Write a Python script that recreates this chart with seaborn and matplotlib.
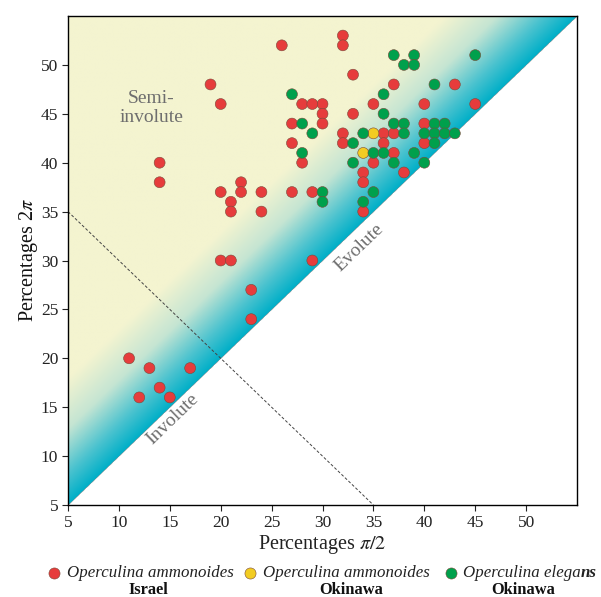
import numpy as np
import pandas as pd
import matplotlib
matplotlib.use("Agg")
import matplotlib.pyplot as plt
import seaborn as sns
from matplotlib.colors import LinearSegmentedColormap
from matplotlib.lines import Line2D

# ---- data ----
israel_x = [32, 32, 33, 37, 43, 30, 30, 30, 35, 33, 40, 45, 32, 32, 36, 37, 36, 37, 40, 40, 35, 34, 34, 38, 34,
            26, 19, 20, 28, 29, 27, 27, 28, 14, 14, 20, 22, 22, 21, 21, 24, 24, 27, 29,
            20, 21, 29, 23, 23, 11, 13, 17, 14, 12, 15]
israel_y = [53, 52, 49, 48, 48, 46, 45, 44, 46, 45, 46, 46, 43, 42, 43, 43, 42, 41, 44, 42, 40, 39, 38, 39, 35,
            52, 48, 46, 46, 46, 44, 42, 40, 40, 38, 37, 38, 37, 36, 35, 37, 35, 37, 37,
            30, 30, 30, 27, 24, 20, 19, 19, 17, 16, 16]
oki_amm_x = [35, 34]
oki_amm_y = [43, 41]
oki_ele_x = [37, 39, 38, 39, 45, 41, 36, 36, 37, 38, 38, 34, 33, 35, 36, 39, 33, 37, 40, 41, 42, 40, 41, 42, 43, 41,
             30, 35, 34, 27, 28, 29, 28, 30]
oki_ele_y = [51, 51, 50, 50, 51, 48, 47, 45, 44, 44, 43, 43, 42, 41, 41, 41, 40, 40, 40, 44, 44, 43, 43, 43, 43, 42,
             37, 37, 36, 47, 44, 43, 41, 36]
groups = ["Operculina ammonoides Israel", "Operculina ammonoides Okinawa", "Operculina elegans Okinawa"]
ticks = [5, 10, 15, 20, 25, 30, 35, 40, 45, 50]

df = pd.DataFrame({
    "x": israel_x + oki_amm_x + oki_ele_x,
    "y": israel_y + oki_amm_y + oki_ele_y,
    "group": [groups[0]] * len(israel_x) + [groups[1]] * len(oki_amm_x) + [groups[2]] * len(oki_ele_x),
})
colors = {groups[0]: "#e63c3c", groups[1]: "#f2cc22", groups[2]: "#00a04c"}

sns.set_style("white")
plt.rcParams["font.family"] = ["Liberation Serif", "DejaVu Serif"]
plt.rcParams["mathtext.fontset"] = "stix"

fig = plt.figure(figsize=(6.01, 5.97), dpi=100)
ax = fig.add_axes([68 / 601, 1 - 505 / 597, (577 - 68) / 601, (505 - 16) / 597])

# background gradient above diagonal
xs = np.linspace(5, 55, 600)
ys = np.linspace(5, 55, 600)
X, Y = np.meshgrid(xs, ys)
D = Y - X
cmap = LinearSegmentedColormap.from_list(
    "bg", [(0, "#00afc8"), (0.25, "#4cc3cf"), (0.6, "#c5e5d3"), (1, "#f4f4d0")])
G = np.clip(D / 13.0, 0, 1)
G = np.ma.masked_where(D < 0, G)
ax.imshow(G, extent=[5, 55, 5, 55], origin="lower", cmap=cmap, vmin=0, vmax=1,
          aspect="auto", interpolation="bilinear", zorder=0)

# dashed guide line
ax.plot([5, 35], [35, 5], color="#444444", lw=0.7, ls=(0, (3, 2)), zorder=1)

sns.scatterplot(data=df, x="x", y="y", hue="group", palette=colors, s=62,
                edgecolor="#7a4a3a", linewidth=0.4, legend=False, ax=ax, zorder=3)

ax.set_xlim(5, 55)
ax.set_ylim(5, 55)
ax.set_xticks(ticks)
ax.set_yticks(ticks)
ax.tick_params(direction="out", length=4, width=0.8, labelsize=12.5, colors="#222222",
               bottom=True, left=True, pad=3)
for sp in ax.spines.values():
    sp.set_color("black")
    sp.set_linewidth(1.0)
ax.set_xlabel(r"Percentages $\pi/2$", fontsize=14.5, labelpad=2, color="#222222")
ax.set_ylabel(r"Percentages 2$\pi$", fontsize=14.5, labelpad=1, color="#111111")

txtc = "#6e6e6e"
ax.text(13.2, 45.6, "Semi-\ninvolute", fontsize=14, color=txtc, ha="center", va="center",
        linespacing=1.1, zorder=4)
ax.text(33.6, 31.3, "Evolute", fontsize=14, color=txtc, ha="center", va="center",
        rotation=44, rotation_mode="anchor", zorder=4)
ax.text(15.3, 13.8, "Involute", fontsize=14, color=txtc, ha="center", va="center",
        rotation=44, rotation_mode="anchor", zorder=4)

# legend
ly = 1 - 573 / 597
ly2 = 1 - 590 / 597
fs = 12.2
legend_items = [
    (54, colors[groups[0]], 67, "Operculina ammonoides", "", "Israel", 148),
    (250, colors[groups[1]], 263, "Operculina ammonoides", "", "Okinawa", 351),
    (451, colors[groups[2]], 463, "Operculina elega", "ns", "Okinawa", 523),
]
fig.canvas.draw()
for mx, col, tx, name, tail, loc, locx in legend_items:
    fig.add_artist(Line2D([mx / 601], [ly], marker="o", color=col, markersize=8,
                          markeredgecolor="#7a4a3a", markeredgewidth=0.4,
                          transform=fig.transFigure, linestyle="none"))
    t = fig.text(tx / 601, ly, name, fontsize=fs, style="italic", ha="left", va="center", color="#222222")
    if tail:
        bb = t.get_window_extent(renderer=fig.canvas.get_renderer())
        fig.text(bb.x1 / fig.bbox.width, ly, tail, fontsize=fs, style="italic", fontweight="bold",
                 ha="left", va="center", color="#222222")
    fig.text(locx / 601, ly2, loc, fontsize=11.8, fontweight="bold", ha="center", va="center", color="#111111")

fig.savefig("out.png", dpi=100)
